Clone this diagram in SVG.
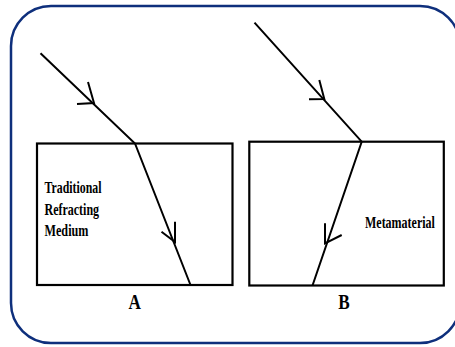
<svg xmlns="http://www.w3.org/2000/svg" width="455" height="347" viewBox="0 0 455 347">
<style>
.frame{fill:#ffffff;stroke:#0e2f7c;stroke-width:2.5}
.box{fill:none;stroke:#000;stroke-width:2.2}
.ray{fill:none;stroke:#000;stroke-width:2;stroke-linejoin:miter;stroke-linecap:butt}
.lbl{font-weight:bold;fill:#000}
</style>
<rect x="0" y="0" width="455" height="347" fill="#ffffff"/>
<rect class="frame" x="11" y="6" width="449" height="337" rx="40" ry="40"/>
<g id="nodeA">
<rect class="box" x="37" y="143.5" width="195.5" height="141.5"/>
<g font-family="'Liberation Serif', 'DejaVu Serif', serif" class="lbl" font-size="16">
<text transform="translate(44.5,192.7) scale(0.74,1)">Traditional</text>
<text transform="translate(44.5,214.5) scale(0.75,1)">Refracting</text>
<text transform="translate(44.5,235.7) scale(0.76,1)">Medium</text>
</g>
<text class="lbl" font-family="'Liberation Serif', 'DejaVu Serif', serif" font-size="22" text-anchor="middle" transform="translate(134.6,309.3) scale(0.78,1)">A</text>
</g>
<g id="nodeB">
<rect class="box" x="249.3" y="141.7" width="194.5" height="143.8"/>
<text class="lbl" font-family="'Liberation Serif', 'DejaVu Serif', serif" font-size="16" transform="translate(365,228.3) scale(0.75,1)">Metamaterial</text>
<text class="lbl" font-family="'Liberation Serif', 'DejaVu Serif', serif" font-size="22" text-anchor="middle" transform="translate(344,309.3) scale(0.78,1)">B</text>
</g>
<g id="connectors">
<polyline class="ray" points="40.5,53.3 135,143.5 190.5,285"/>
<polyline class="ray" points="88,82 94,103 77,104"/>
<polyline class="ray" points="161.5,231.7 175,242 175,221.7"/>
<polyline class="ray" points="254.5,22.7 361.7,141.7 312.5,285.5"/>
<polyline class="ray" points="319.3,80 324.3,99 309,99.3"/>
<polyline class="ray" points="325,223.3 325,243.3 341.7,235"/>
</g>
</svg>
